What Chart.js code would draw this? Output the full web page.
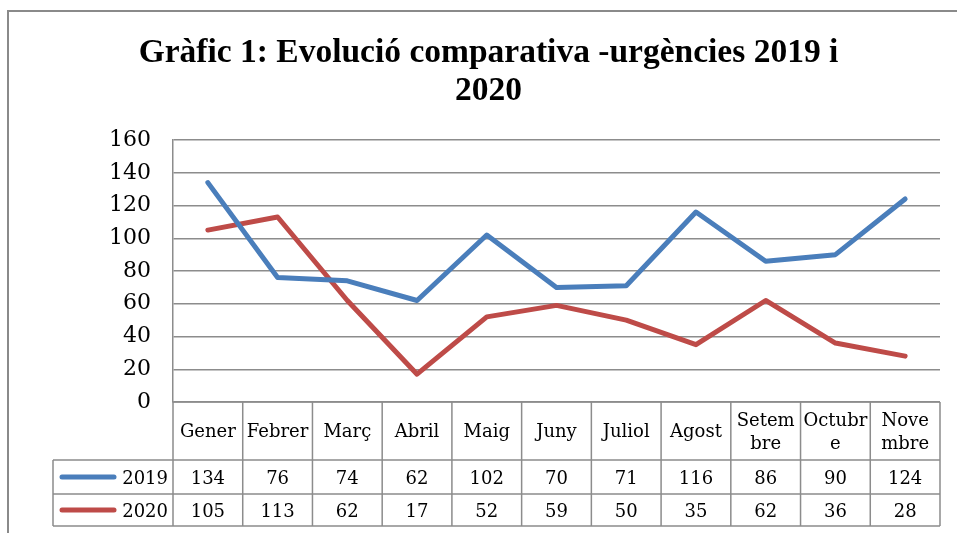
<!DOCTYPE html>
<html>
<head>
<meta charset="utf-8">
<script src="https://cdn.jsdelivr.net/npm/chart.js@4"></script>
<style>
  html, body { margin: 0; padding: 0; background: #fff; }
  #wrap { position: relative; width: 957px; height: 533px; }
  #frame { position: absolute; left: 7px; top: 10px; width: 960px; height: 540px; border: 2px solid #8a8a8a; box-sizing: border-box; }
  canvas { position: absolute; left: 0; top: 0; }
</style>
</head>
<body>
<div id="wrap">
  <div id="frame"></div>
  <canvas id="urgChart" width="957" height="533"></canvas>
</div>
<script>
// dades del gràfic
const mesos = ['Gener', 'Febrer', 'Març', 'Abril', 'Maig', 'Juny', 'Juliol', 'Agost', 'Setembre', 'Octubre', 'Novembre'];
// etiquetes tal com surten a la taula (partides en dues línies)
const etiquetesTaula = [['Gener'], ['Febrer'], ['Març'], ['Abril'], ['Maig'], ['Juny'], ['Juliol'], ['Agost'], ['Setem', 'bre'], ['Octubr', 'e'], ['Nove', 'mbre']];
const urg2019 = [134, 76, 74, 62, 102, 70, 71, 116, 86, 90, 124];
const urg2020 = [105, 113, 62, 17, 52, 59, 50, 35, 62, 36, 28];
const ticksY = [0, 20, 40, 60, 80, 100, 120, 140, 160];

const colors = {
    blau: '#4a7ebb',
    vermell: '#be4b48',
    grid: '#8c8c8c',
    text: '#000'
};
const serif = "'DejaVu Serif', serif";

// Taula de dades sota el gràfic (estil Excel)
const dataTablePlugin = {
    id: 'dataTable',
    afterDraw(chart) {
        const ctx = chart.ctx;
        const area = chart.chartArea;
        const x = chart.scales.x;
        const n = mesos.length;
        const colW = (area.right - area.left) / n;
        const top = area.bottom;
        const headBottom = top + 58;
        const row1Bottom = headBottom + 34;
        const row2Bottom = row1Bottom + 32;
        const legendLeft = 53;

        ctx.save();
        ctx.strokeStyle = colors.grid;
        ctx.lineWidth = 1.5;

        // línies horitzontals
        ctx.beginPath();
        ctx.moveTo(area.left, top); ctx.lineTo(area.right, top);
        [headBottom, row1Bottom, row2Bottom].forEach(y => {
            ctx.moveTo(legendLeft, y); ctx.lineTo(area.right, y);
        });
        // línies verticals
        for (let i = 0; i <= n; i++) {
            const xx = area.left + i * colW;
            ctx.moveTo(xx, top); ctx.lineTo(xx, row2Bottom);
        }
        ctx.moveTo(legendLeft, headBottom); ctx.lineTo(legendLeft, row2Bottom);
        ctx.stroke();

        // capçalera
        ctx.fillStyle = colors.text;
        ctx.font = '18px ' + serif;
        ctx.textAlign = 'center';
        ctx.textBaseline = 'middle';
        etiquetesTaula.forEach((lines, i) => {
            const cx = x.getPixelForValue(i);
            const mid = (top + headBottom) / 2 + 1;
            if (lines.length === 1) {
                ctx.fillText(lines[0], cx, mid);
            } else {
                ctx.fillText(lines[0], cx, mid - 11);
                ctx.fillText(lines[1], cx, mid + 12);
            }
        });

        // files de dades amb la llegenda
        const rows = [
            { ds: chart.data.datasets[0], y: (headBottom + row1Bottom) / 2 },
            { ds: chart.data.datasets[1], y: (row1Bottom + row2Bottom) / 2 }
        ];
        rows.forEach(r => {
            ctx.strokeStyle = r.ds.borderColor;
            ctx.lineWidth = 5;
            ctx.lineCap = 'round';
            ctx.beginPath();
            ctx.moveTo(62, r.y); ctx.lineTo(114, r.y);
            ctx.stroke();
            ctx.textAlign = 'right';
            ctx.fillText(r.ds.label, area.left - 5, r.y + 2);
            ctx.textAlign = 'center';
            r.ds.data.forEach((v, i) => {
                ctx.fillText(String(v), x.getPixelForValue(i), r.y + 2);
            });
        });
        ctx.restore();
    }
};

const ctx = document.getElementById('urgChart').getContext('2d');
new Chart(ctx, {
    type: 'line',
    data: {
        labels: mesos,
        datasets: [
            { label: '2019', data: urg2019, borderColor: colors.blau, backgroundColor: colors.blau },
            { label: '2020', data: urg2020, borderColor: colors.vermell, backgroundColor: colors.vermell }
        ]
    },
    options: {
        responsive: false,
        animation: false,
        layout: { padding: { left: 37, right: 17, top: 0, bottom: 131 } },
        elements: {
            line: { borderWidth: 5, tension: 0, borderCapStyle: 'round', borderJoinStyle: 'round' },
            point: { radius: 0, hoverRadius: 0 }
        },
        scales: {
            x: {
                display: false,
                offset: true
            },
            y: {
                min: 0,
                max: 160,
                afterBuildTicks: axis => { axis.ticks = ticksY.map(v => ({ value: v })); },
                afterFit: axis => { axis.width = 136; },
                border: { display: true, color: colors.grid, width: 1.5 },
                grid: { color: colors.grid, lineWidth: 1.5, drawTicks: false },
                ticks: {
                    padding: 22,
                    color: colors.text,
                    font: { family: serif, size: 22 }
                }
            }
        },
        plugins: {
            legend: { display: false },
            tooltip: { enabled: false },
            title: {
                display: true,
                text: ['Gràfic 1: Evolució comparativa -urgències 2019 i', '2020'],
                color: colors.text,
                font: { family: "'Liberation Serif', serif", size: 33.5, weight: 'bold', lineHeight: 1.12 },
                padding: { top: 35, bottom: 30 }
            }
        }
    },
    plugins: [dataTablePlugin]
});
</script>
</body>
</html>
